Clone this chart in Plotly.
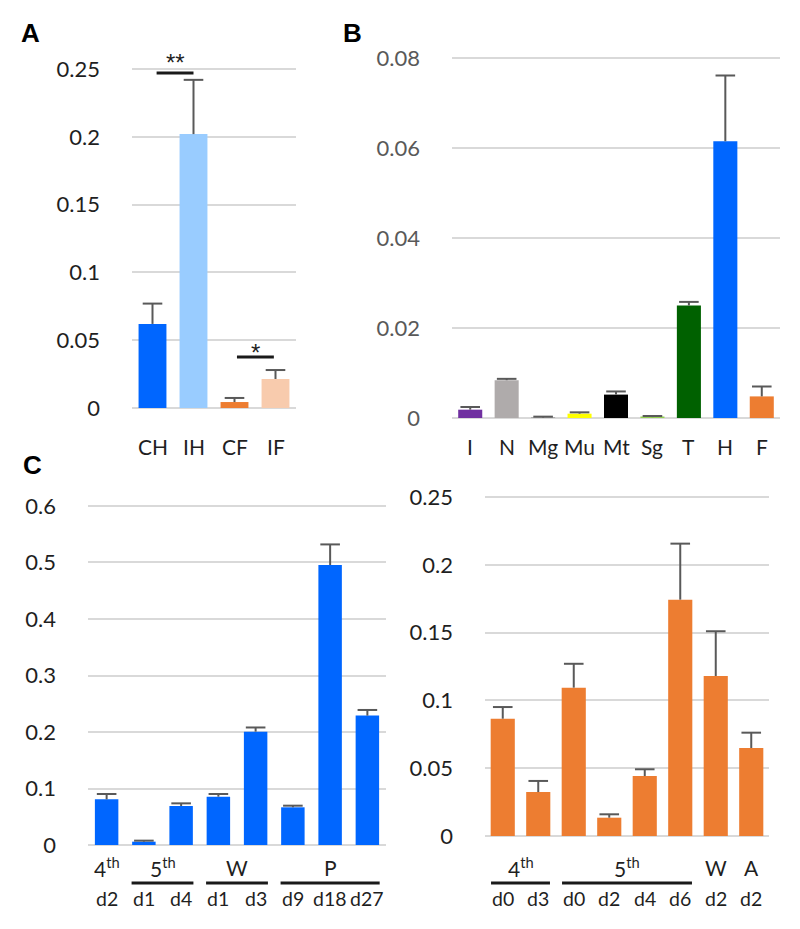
import plotly.graph_objects as go

# ---------------- data ----------------
a_cats = ["CH", "IH", "CF", "IF"]
a_vals = [0.062, 0.202, 0.0044, 0.0214]
a_errs = [0.015, 0.040, 0.0030, 0.0066]
a_colors = ["#0066FF", "#99CCFF", "#ED7D31", "#F8CBAD"]

b_cats = ["I", "N", "Mg", "Mu", "Mt", "Sg", "T", "H", "F"]
b_vals = [0.00185, 0.0084, 0.0001, 0.00096, 0.0052, 0.0002, 0.0250, 0.0615, 0.0048]
b_errs = [0.0006, 0.0003, 0.0002, 0.0003, 0.0007, 0.00024, 0.0008, 0.0146, 0.0022]
b_colors = ["#7030A0", "#AFABAB", "#7F7F7F", "#FFFF00", "#000000", "#92D050",
            "#006100", "#0066FF", "#ED7D31"]

cl_groups = ["4th", "5th", "5th", "W", "W", "P", "P", "P"]
cl_days = ["d2", "d1", "d4", "d1", "d3", "d9", "d18", "d27"]
cl_vals = [0.0808, 0.0059, 0.0690, 0.0855, 0.2006, 0.0667, 0.4956, 0.2290]
cl_errs = [0.0095, 0.0018, 0.0047, 0.0048, 0.0074, 0.0029, 0.0364, 0.0100]

cr_groups = ["4th", "4th", "5th", "5th", "5th", "5th", "W", "A"]
cr_days = ["d0", "d3", "d0", "d2", "d4", "d6", "d2", "d2"]
cr_vals = [0.0865, 0.0324, 0.1094, 0.0135, 0.0442, 0.1743, 0.1180, 0.0649]
cr_errs = [0.0086, 0.0082, 0.0176, 0.0025, 0.0050, 0.0413, 0.0330, 0.0113]

W, H = 800, 929
FONT = "Lato"
ERRC = "#595959"
GRID = "#D9D9D9"
TXT = "#1f1f1f"


def px_x(x):
    return x / W


def px_y(y):
    return 1 - y / H


fig = go.Figure()


def add_panel(idx, cats, vals, errs, colors, width):
    xa = "x" if idx == 1 else f"x{idx}"
    ya = "y" if idx == 1 else f"y{idx}"
    fig.add_trace(go.Bar(x=cats, y=vals, marker=dict(color=colors, line=dict(width=0)),
                         width=width, xaxis=xa, yaxis=ya, showlegend=False, hoverinfo="x+y"))
    tops = [v + e for v, e in zip(vals, errs)]
    fig.add_trace(go.Scatter(
        x=cats, y=tops, mode="markers", xaxis=xa, yaxis=ya, showlegend=False,
        marker=dict(symbol="line-ew", size=14, line=dict(width=2, color=ERRC)),
        error_y=dict(type="data", symmetric=False, array=[0] * len(errs), arrayminus=errs,
                     width=0, thickness=2, color=ERRC),
        hoverinfo="skip"))


cl_cats = [g + " " + d for g, d in zip(cl_groups, cl_days)]
cr_cats = [g + " " + d for g, d in zip(cr_groups, cr_days)]

add_panel(1, a_cats, a_vals, a_errs, a_colors, 0.68)
add_panel(2, b_cats, b_vals, b_errs, b_colors, 0.66)
add_panel(3, cl_cats, cl_vals, cl_errs, "#0066FF", 0.63)
add_panel(4, cr_cats, cr_vals, cr_errs, "#ED7D31", 0.68)


def xaxis(x0, x1, n, anchor):
    return dict(domain=[px_x(x0), px_x(x1)], type="category", range=[-0.5, n - 0.5],
                showgrid=False, showline=False, zeroline=False, showticklabels=False,
                ticks="", fixedrange=True, anchor=anchor, automargin=False)


def yaxis(zero_px, top_tick, top_px, rmax, dtick, anchor, color):
    ppu = (zero_px - top_px) / top_tick
    dom = [px_y(zero_px), px_y(zero_px - rmax * ppu)]
    return dict(domain=dom, range=[0, rmax], dtick=dtick, anchor=anchor, showgrid=True,
                gridcolor=GRID, gridwidth=2, zeroline=True, zerolinecolor=GRID,
                zerolinewidth=2, showline=False, ticks="", ticklabelstandoff=31,
                automargin=False,
                tickfont=dict(family=FONT, size=22, color=color), fixedrange=True)


annotations = []
shapes = []

# x-axis labels for A and B
for cats, xref in ((a_cats, "x"), (b_cats, "x2")):
    for c in cats:
        annotations.append(dict(x=c, y=px_y(446), xref=xref, yref="paper", text=c,
                                showarrow=False, yanchor="middle",
                                font=dict(family=FONT, size=21, color=TXT)))


def group_labels(groups, days, xref):
    n = len(groups)
    for i, d in enumerate(days):
        annotations.append(dict(x=i, y=px_y(898), xref=xref, yref="paper", text=d,
                                showarrow=False, yanchor="middle",
                                font=dict(family=FONT, size=19.5, color=TXT)))
    i = 0
    while i < n:
        j = i
        while j + 1 < n and groups[j + 1] == groups[i]:
            j += 1
        g = groups[i]
        txt = g[:-2] + "<sup>" + g[-2:] + "</sup>" if g.endswith("th") else g
        annotations.append(dict(x=(i + j) / 2, y=px_y(867), xref=xref, yref="paper",
                                text=txt, showarrow=False, yanchor="middle",
                                font=dict(family=FONT, size=21, color=TXT)))
        if j > i:
            shapes.append(dict(type="line", xref=xref, yref="paper", x0=i - 0.33,
                               x1=j + 0.33, y0=px_y(883), y1=px_y(883),
                               line=dict(color="#1a1a1a", width=3)))
        i = j + 1


group_labels(cl_groups, cl_days, "x3")
group_labels(cr_groups, cr_days, "x4")

# significance marks in panel A
shapes.append(dict(type="line", xref="x", yref="y", x0=0.1, x1=1.0, y0=0.247, y1=0.247,
                   line=dict(color="#1a1a1a", width=3)))
shapes.append(dict(type="line", xref="x", yref="y", x0=2.06, x1=2.96, y0=0.0376, y1=0.0376,
                   line=dict(color="#1a1a1a", width=3)))
annotations.append(dict(x=0.55, y=px_y(62), xref="x", yref="paper", text="**", showarrow=False,
                        yanchor="middle", font=dict(family="Liberation Sans", size=24, color=TXT)))
annotations.append(dict(x=2.5, y=px_y(352), xref="x", yref="paper", text="*", showarrow=False,
                        yanchor="middle", font=dict(family="Liberation Sans", size=24, color=TXT)))

# panel letters
for letter, x, y in (("A", 30, 33), ("B", 352, 33), ("C", 32, 465)):
    annotations.append(dict(x=px_x(x), y=px_y(y), xref="paper", yref="paper",
                            text="<b>" + letter + "</b>",
                            showarrow=False, xanchor="center", yanchor="middle",
                            font=dict(family="Liberation Sans", size=26, color="#000000")))

fig.update_layout(
    width=W, height=H, margin=dict(l=0, r=0, t=0, b=0, pad=0, autoexpand=False),
    paper_bgcolor="white", plot_bgcolor="white",
    xaxis=xaxis(132, 296, len(a_cats), "y"),
    yaxis=yaxis(408, 0.25, 69, 0.253, 0.05, "x", TXT),
    xaxis2=xaxis(452, 780, len(b_cats), "y2"),
    yaxis2=yaxis(418, 0.08, 58, 0.081, 0.02, "x2", "#595959"),
    xaxis3=xaxis(88, 386, len(cl_cats), "y3"),
    yaxis3=yaxis(845, 0.6, 506, 0.605, 0.1, "x3", TXT),
    xaxis4=xaxis(485, 769, len(cr_cats), "y4"),
    yaxis4=yaxis(836, 0.25, 497, 0.253, 0.05, "x4", TXT),
    annotations=annotations, shapes=shapes,
    font=dict(family=FONT),
)

fig.write_html("out.html", config=dict(displayModeBar=False),
               post_script="document.body.style.margin='0';document.body.style.overflow='hidden';")
